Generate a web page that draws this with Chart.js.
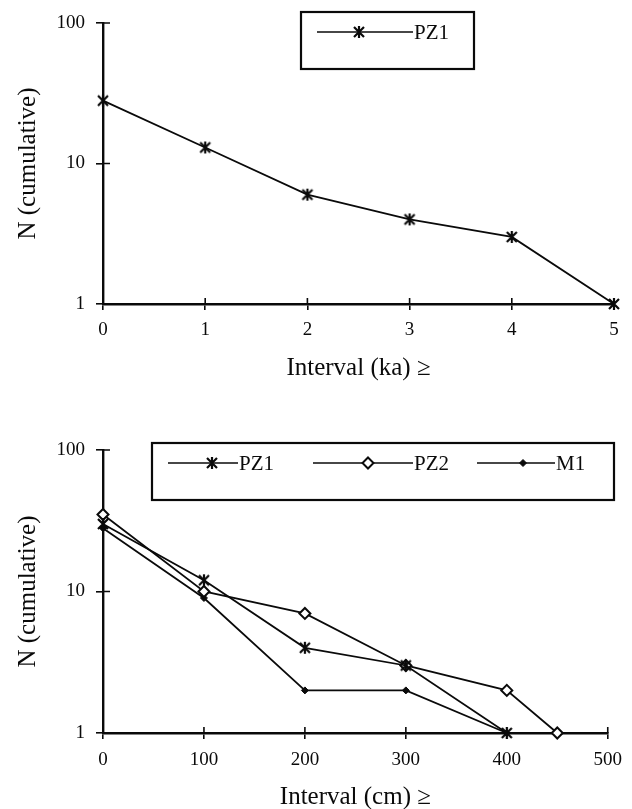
<!DOCTYPE html>
<html>
<head>
<meta charset="utf-8">
<script src="https://cdn.jsdelivr.net/npm/chart.js@4/dist/chart.umd.min.js"></script>
<style>
  html, body { margin: 0; padding: 0; background: #fff; }
  body { width: 632px; height: 809px; overflow: hidden; position: relative; }
  .panel { position: absolute; left: 0; width: 632px; }
  #top-panel { top: 0; height: 400px; }
  #bottom-panel { top: 400px; height: 420px; }
</style>
</head>
<body>
<div class="panel" id="top-panel"><canvas id="ka-chart" width="632" height="400"></canvas></div>
<div class="panel" id="bottom-panel"><canvas id="cm-chart" width="632" height="420"></canvas></div>
<script>
// ---- data ----
const KA_X = [0, 1, 2, 3, 4, 5];
const PZ1_KA = [28, 13, 6, 4, 3, 1];

const PZ1_CM_X = [0, 100, 200, 300, 400];
const PZ1_CM = [30, 12, 4, 3, 1];
const PZ2_CM_X = [0, 100, 200, 300, 400, 450];
const PZ2_CM = [35, 10, 7, 3, 2, 1];
const M1_CM_X = [0, 100, 200, 300, 400];
const M1_CM = [28, 9, 2, 2, 1];

const Y_TICKS = [1, 10, 100];
const SERIF = '"Liberation Serif", "Times New Roman", serif';
const INK = '#0a0a0a';

// Excel-style asterisk marker (x plus vertical stroke)
function asteriskMarker() {
  const c = document.createElement('canvas');
  c.width = 14; c.height = 14;
  const g = c.getContext('2d');
  g.strokeStyle = INK; g.lineWidth = 2.2; g.lineCap = 'butt';
  g.beginPath();
  g.moveTo(2, 2); g.lineTo(12, 12);
  g.moveTo(12, 2); g.lineTo(2, 12);
  g.moveTo(7, 1); g.lineTo(7, 13);
  g.stroke();
  return c;
}
const STAR = asteriskMarker();

function pairs(xs, ys) { return xs.map((x, i) => ({ x, y: ys[i] })); }

const SERIES_STYLE = {
  PZ1: { pointStyle: STAR, pointRadius: 7, backgroundColor: INK },
  PZ2: { pointStyle: 'rectRot', pointRadius: 5.5, backgroundColor: '#fff', pointBorderWidth: 2 },
  M1:  { pointStyle: 'rectRot', pointRadius: 3.5, backgroundColor: INK, pointBorderWidth: 1 }
};

function dataset(label, xs, ys) {
  const s = SERIES_STYLE[label];
  return {
    label, data: pairs(xs, ys),
    borderColor: INK, borderWidth: 1.8,
    pointStyle: s.pointStyle, pointRadius: s.pointRadius, pointHoverRadius: s.pointRadius,
    pointBackgroundColor: s.backgroundColor, pointBorderColor: INK,
    pointBorderWidth: s.pointBorderWidth || 1,
    tension: 0, clip: false
  };
}

// draws the inner half of the cross tick marks
const crossTicks = {
  id: 'crossTicks',
  afterDraw(chart) {
    const { ctx, chartArea: a, scales } = chart;
    ctx.save();
    ctx.strokeStyle = INK; ctx.lineWidth = 1.6;
    ctx.beginPath();
    scales.y.ticks.forEach(t => {
      const py = scales.y.getPixelForValue(t.value);
      ctx.moveTo(a.left, py); ctx.lineTo(a.left + 7, py);
    });
    scales.x.ticks.forEach(t => {
      const px = scales.x.getPixelForValue(t.value);
      ctx.moveTo(px, a.bottom); ctx.lineTo(px, a.bottom - 6);
    });
    ctx.stroke();
    ctx.restore();
  }
};

function drawLegendMarker(ctx, label, x, y) {
  const s = SERIES_STYLE[label];
  if (s.pointStyle === STAR) { ctx.drawImage(STAR, x - 7, y - 7); return; }
  const r = s.pointRadius;
  ctx.beginPath();
  ctx.moveTo(x, y - r); ctx.lineTo(x + r, y); ctx.lineTo(x, y + r); ctx.lineTo(x - r, y); ctx.closePath();
  ctx.fillStyle = s.backgroundColor; ctx.fill();
  ctx.lineWidth = s.pointBorderWidth || 1; ctx.strokeStyle = INK; ctx.stroke();
}

// boxed legend like the original spreadsheet figure
const boxLegend = {
  id: 'boxLegend',
  afterDraw(chart, args, opts) {
    if (!opts.box) return;
    const ctx = chart.ctx;
    const b = opts.box;
    ctx.save();
    ctx.fillStyle = '#fff';
    ctx.fillRect(b.x, b.y, b.w, b.h);
    ctx.strokeStyle = INK; ctx.lineWidth = 2.2;
    ctx.strokeRect(b.x, b.y, b.w, b.h);
    ctx.font = '21px ' + SERIF;
    ctx.textBaseline = 'middle';
    opts.items.forEach(it => {
      ctx.strokeStyle = INK; ctx.lineWidth = 1.6;
      ctx.beginPath(); ctx.moveTo(it.x1, opts.lineY); ctx.lineTo(it.x2, opts.lineY); ctx.stroke();
      drawLegendMarker(ctx, it.label, it.mark, opts.lineY);
      ctx.fillStyle = INK;
      ctx.fillText(it.label, it.x2 + 1, opts.lineY + 1);
    });
    ctx.restore();
  }
};

function yAxis() {
  return {
    type: 'logarithmic', min: 1, max: 100,
    afterBuildTicks: s => { s.ticks = Y_TICKS.map(v => ({ value: v })); },
    afterFit: s => { s.width = 103; },
    border: { display: true, color: INK, width: 2.4 },
    grid: { drawOnChartArea: false, drawTicks: true, tickLength: 7, color: INK, lineWidth: 1.6 },
    ticks: { color: INK, padding: 11, font: { family: SERIF, size: 19 }, callback: v => String(v) },
    title: { display: true, text: 'N (cumulative)', color: INK, padding: { top: 13, bottom: 0 },
             font: { family: SERIF, size: 25, lineHeight: 1.2 } }
  };
}

function xAxis(max, step, title, labelPad) {
  return {
    type: 'linear', min: 0, max: max,
    ticks: { stepSize: step, color: INK, padding: labelPad, maxRotation: 0,
             font: { family: SERIF, size: 19 } },
    afterFit: s => { s.height = 79; },
    border: { display: true, color: INK, width: 2.4 },
    grid: { drawOnChartArea: false, drawTicks: true, tickLength: 6, color: INK, lineWidth: 1.6 },
    title: { display: true, text: title, color: INK, padding: { top: 0, bottom: 0 },
             font: { family: SERIF, size: 25, lineHeight: 1.2 } }
  };
}

function baseOptions(padding, legend) {
  return {
    responsive: false, animation: false, maintainAspectRatio: false,
    layout: { padding },
    plugins: { legend: { display: false }, tooltip: { enabled: false }, boxLegend: legend },
    events: []
  };
}

const kaOptions = baseOptions({ top: 23, right: 18, bottom: 17, left: 0 }, {
  box: { x: 301, y: 12, w: 173, h: 57 }, lineY: 32,
  items: [{ label: 'PZ1', x1: 317, x2: 413, mark: 359 }]
});
kaOptions.scales = { x: xAxis(5, 1, 'Interval (ka) \u2265', 9), y: yAxis() };

new Chart(document.getElementById('ka-chart'), {
  type: 'line',
  data: { datasets: [dataset('PZ1', KA_X, PZ1_KA)] },
  options: kaOptions,
  plugins: [crossTicks, boxLegend]
});

const cmOptions = baseOptions({ top: 50, right: 21, bottom: 8, left: 0 }, {
  box: { x: 152, y: 43, w: 462, h: 57 }, lineY: 63,
  items: [
    { label: 'PZ1', x1: 168, x2: 238, mark: 212 },
    { label: 'PZ2', x1: 313, x2: 413, mark: 368 },
    { label: 'M1',  x1: 477, x2: 555, mark: 523 }
  ]
});
cmOptions.scales = { x: xAxis(500, 100, 'Interval (cm) \u2265', 10), y: yAxis() };

new Chart(document.getElementById('cm-chart'), {
  type: 'line',
  data: {
    datasets: [
      dataset('PZ1', PZ1_CM_X, PZ1_CM),
      dataset('PZ2', PZ2_CM_X, PZ2_CM),
      dataset('M1', M1_CM_X, M1_CM)
    ]
  },
  options: cmOptions,
  plugins: [crossTicks, boxLegend]
});
</script>
</body>
</html>
